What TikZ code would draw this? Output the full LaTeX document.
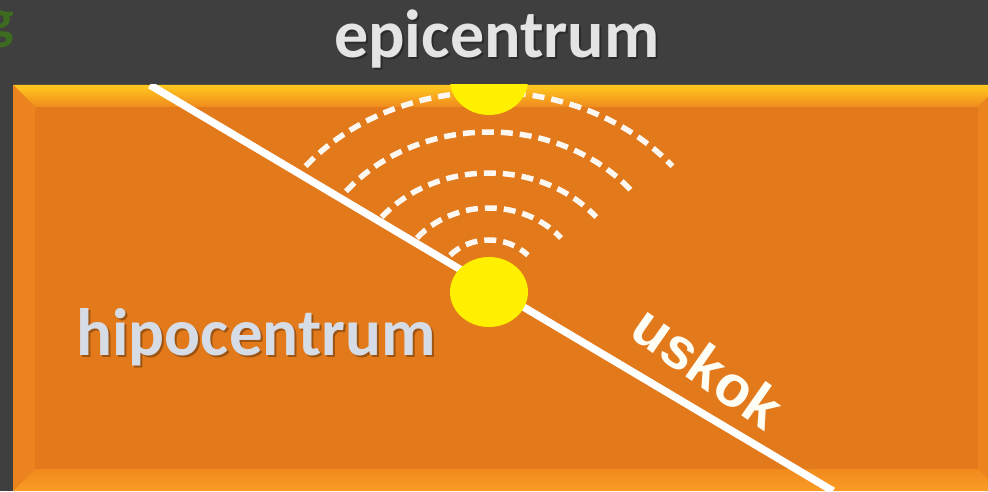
\documentclass[tikz,border=0pt]{standalone}
\usepackage{fontspec}
\setmainfont{Carlito}
\newfontfamily\faultfont{Liberation Sans}
\usetikzlibrary{shapes.geometric}

\definecolor{slide}{HTML}{3F3F3F}
\definecolor{rock}{HTML}{E2791A}
\definecolor{bevtop}{HTML}{FFC81E}
\definecolor{bevtopend}{HTML}{F08A1E}
\definecolor{bevside}{HTML}{EB841F}
\definecolor{bevbottom}{HTML}{FB9C26}
\definecolor{quakeyellow}{HTML}{FFF000}
\definecolor{titlegray}{HTML}{E4E4E4}
\definecolor{hypogray}{HTML}{D6DCE6}
\definecolor{leafgreen}{HTML}{3D6B1F}

\tikzset{
  big text/.style={font=\bfseries\fontsize{#1}{#1}\selectfont},
  shadow text/.style={text=black, opacity=0.3},
}

\begin{document}
\begin{tikzpicture}[x=1pt, y=1pt,
  quake/.style={ellipse, fill=quakeyellow, minimum width=78, minimum height=70, inner sep=0pt},
  wave/.style={white!94!rock, line width=5.5, dash pattern=on 12 off 7}]
\useasboundingbox (0,0) rectangle (988,491);
\fill[slide] (0,0) rectangle (988,491);

% block with bevelled rim
\fill[rock] (13,0) rectangle (1000,406);
\shade[top color=bevtop, bottom color=bevtopend] (13,406) -- (1000,406) -- (978,384) -- (35,384) -- cycle;
\fill[bevside] (13,0) -- (13,406) -- (35,384) -- (35,22) -- cycle;
\fill[bevside] (1000,0) -- (1000,406) -- (978,384) -- (978,22) -- cycle;
\shade[bottom color=bevbottom, top color=bevtopend] (13,0) -- (1000,0) -- (978,22) -- (35,22) -- cycle;

\begin{scope}
\clip (13,0) rectangle (1000,406);
\coordinate (faulttop) at (150,406);
\coordinate (faultbot) at (833,0);
\draw[white, line width=7.5] (faulttop) -- (faultbot);
\node[quake] (hypo) at (489,199) {};
\foreach \a/\b/\s in {55/52/135, 94/84/140, 138/119/141, 184/160/141, 236/200/141}
  \draw[wave] (hypo.center) ++({\a*cos(\s)},{\b*sin(\s)}) arc[start angle=\s, end angle=180-\s, x radius=\a, y radius=\b];
\node[quake] (epi) at (489,411) {};
\end{scope}

% labels
\node[big text=68, shadow text, anchor=base] (epishadow) at (499,431) {epicentrum};
\node[big text=68, text=titlegray, anchor=base] (epiname) at (497,433) {epicentrum};
\node[big text=67, shadow text, anchor=base] (hyposhadow) at (258,134) {hipocentrum};
\node[big text=67, text=hypogray, anchor=base] (hyponame) at (256,136) {hipocentrum};
\node[text=white!96!yellow, rotate=-35, font=\faultfont\bfseries\fontsize{58}{58}\selectfont] (faultname) at (708,124) {uskok};
\node[big text=56, text=leafgreen, anchor=base east] (corner) at (18,452) {g};
\end{tikzpicture}
\end{document}
